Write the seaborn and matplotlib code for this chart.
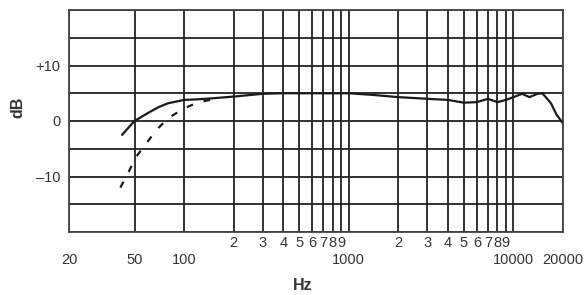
import matplotlib
matplotlib.use("Agg")
import matplotlib.pyplot as plt
import seaborn as sns
import pandas as pd
from matplotlib.ticker import FixedLocator, FixedFormatter

# solid response curve
freq_solid = [42, 45, 50, 60, 70, 80, 100, 120, 150, 200, 300, 400, 600, 1000, 1400,
              2000, 3000, 4000, 5000, 6000, 7000, 8000, 9000, 10000, 11300, 12500,
              14000, 15000, 16900, 18300, 20000]
db_solid = [-2.5, -1.5, 0, 1.4, 2.5, 3.2, 3.8, 3.9, 4.1, 4.4, 4.9, 5.0, 5.0, 5.0, 4.7,
            4.3, 4.0, 3.8, 3.3, 3.4, 4.0, 3.4, 3.8, 4.3, 4.9, 4.3,
            4.9, 5.0, 3.2, 1.1, -0.4]

# dashed (low cut) curve
freq_dash = [41, 46, 51, 59, 68, 80, 100, 123, 150]
db_dash = [-12, -9.2, -6.5, -4, -1.6, 0.5, 2.3, 3.4, 3.9]

major_ticks = [20, 50, 100, 1000, 10000, 20000]
major_labels = ['20', '50', '100', '1000', '10000', '20000']
minor_ticks = [200, 300, 400, 500, 600, 700, 800, 900,
               2000, 3000, 4000, 5000, 6000, 7000, 8000, 9000]
minor_labels = ['2', '3', '4', '5', '6', '7', '8', '9'] * 2
y_ticks = [10, 0, -10]
y_labels = ['+10', '0', '\u201310']

sns.set_style("white")
plt.rcParams['font.family'] = ['Liberation Sans', 'DejaVu Sans']

fig, ax = plt.subplots(figsize=(5.87, 2.95), dpi=100)
fig.subplots_adjust(left=69/587, right=563/587, top=1-10/295, bottom=1-232/295)

df_s = pd.DataFrame({'f': freq_solid, 'db': db_solid})
df_d = pd.DataFrame({'f': freq_dash, 'db': db_dash})
sns.lineplot(data=df_s, x='f', y='db', ax=ax, color='#1a1a1a', lw=1.6, zorder=3)
sns.lineplot(data=df_d, x='f', y='db', ax=ax, color='#1a1a1a', lw=1.6,
             linestyle=(0, (3, 5)), zorder=3)

ax.set_xscale('log')
ax.set_xlim(20, 20000)
ax.set_ylim(-20, 20)

ax.xaxis.set_major_locator(FixedLocator(major_ticks))
ax.xaxis.set_major_formatter(FixedFormatter(major_labels))
ax.xaxis.set_minor_locator(FixedLocator(minor_ticks))
ax.xaxis.set_minor_formatter(FixedFormatter(minor_labels))
ax.tick_params(axis='x', which='major', length=0, pad=15, labelsize=10.5, labelcolor='#333333')
ax.tick_params(axis='x', which='minor', length=0, pad=3, labelsize=10.5, labelcolor='#333333')

ax.set_yticks(range(-20, 21, 5))
ax.set_yticklabels(['' if v not in y_ticks else y_labels[y_ticks.index(v)]
                    for v in range(-20, 21, 5)])
ax.tick_params(axis='y', length=0, pad=6, labelsize=10.5, labelcolor='#333333')

ax.grid(True, which='both', axis='x', color='#222222', lw=1.3)
ax.grid(True, which='major', axis='y', color='#222222', lw=1.3)
for sp in ax.spines.values():
    sp.set_color('#444444')
    sp.set_linewidth(1.3)

ax.set_xlabel('Hz', fontsize=11.5, fontweight='bold', color='#333333')
ax.xaxis.set_label_coords(0.474, -0.205)
ax.set_ylabel('dB', fontsize=11.5, fontweight='bold', color='#333333')
ax.yaxis.set_label_coords(-0.088, 0.563)

fig.savefig('out.png', dpi=100)
